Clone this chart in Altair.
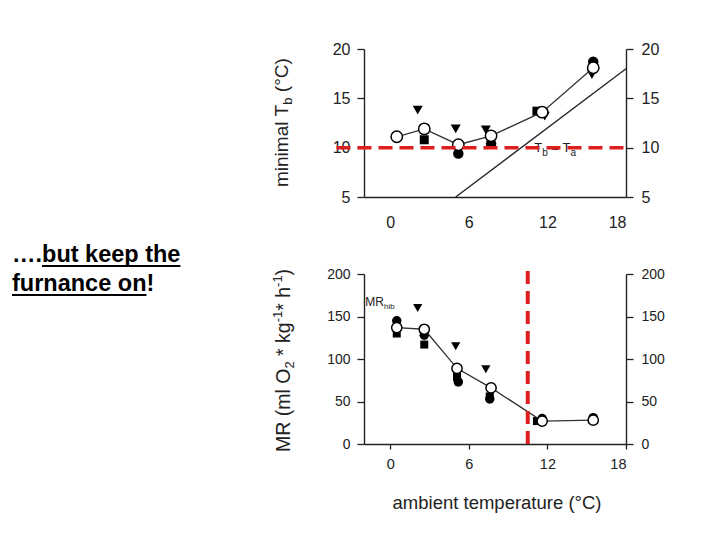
import altair as alt
import pandas as pd

# ---------------- data ----------------
x_ticks = [0, 6, 12, 18]
tb_ticks = [5, 10, 15, 20]
mr_ticks = [0, 50, 100, 150, 200]

# top panel: minimal body temperature (degC)
tb_mean_x = [0.5, 2.6, 5.2, 7.7, 11.6, 15.5]
tb_mean_y = [11.1, 11.9, 10.3, 11.2, 13.6, 18.1]
tb_tri_x = [2.1, 5.0, 7.3, 11.8, 15.4]
tb_tri_y = [13.8, 11.9, 11.8, 13.2, 17.4]
tb_sq_x = [2.6, 11.2]
tb_sq_y = [10.8, 13.7]
tb_dot_x = [5.2, 7.7, 15.5]
tb_dot_y = [9.4, 10.4, 18.7]
iso_x = [5, 18]          # Tb = Ta
iso_y = [5, 18]
tb_ref_x = [-4.1, 18.2]  # red dashed line at 10 degC
tb_ref_y = [10, 10]

# bottom panel: metabolic rate
mr_mean_x = [0.5, 2.6, 5.1, 7.7, 11.6, 15.5]
mr_mean_y = [137, 135, 89, 66, 27, 28]
mr_dot_x = [0.5, 2.6, 5.2, 7.6, 11.6, 15.5]
mr_dot_y = [145, 128, 73, 53, 30, 31]
mr_sq_x = [0.5, 2.6, 5.1, 7.6, 11.2]
mr_sq_y = [130, 117, 79, 56, 27]
mr_tri_x = [2.1, 5.0, 7.3]
mr_tri_y = [160, 115, 88]
mr_ref_x = [10.5]
mr_ref_y = [0]
mr_ref_y2 = [208]

# ---------------- styling helpers ----------------
FONT = "Liberation Sans"
INK = "#222222"
RED = "#dd1f1f"
W = 262
H_TOP = 148
H_BOT = 170
GAP = 77

AW = {' ': 278, '(': 333, ')': 333, '*': 389, '-': 333, '1': 556, '2': 556, 'M': 833,
      'R': 722, 'O': 778, 'T': 611, 'C': 722, '°': 400, 'a': 556, 'b': 556, 'e': 556,
      'g': 556, 'h': 556, 'i': 222, 'k': 500, 'l': 222, 'm': 833, 'n': 556, 'p': 556,
      'r': 333, 't': 278, 'u': 556, '=': 584}
BW = {'.': 278, '…': 1000, 'b': 611, 'u': 611, 't': 333, ' ': 278, 'k': 556, 'e': 556,
      'p': 611, 'h': 611, 'f': 333, 'r': 389, 'n': 611, 'a': 556, 'c': 556, 'o': 611, '!': 333}


def tw(s, fs, table=AW):
    return sum(table.get(c, 556) for c in s) * fs / 1000.0


def df(xs, ys):
    return pd.DataFrame({"x": xs, "y": ys})


one = pd.DataFrame({"k": [0]})
xsc = alt.Scale(domain=[-2, 18], nice=False, zero=False)


def xaxis(top):
    return alt.Axis(values=x_ticks, grid=False, title=None, domainColor=INK, domainWidth=1.4,
                    ticks=not top, tickSize=0 if top else 5, tickColor=INK, tickWidth=1.3,
                    labelPadding=17 if top else 8, labelFontSize=16 if top else 14.5,
                    labelColor=INK, labelFont=FONT)


def yaxis(vals, orient, fs):
    return alt.Axis(values=vals, orient=orient, grid=False, title=None, domainColor=INK,
                    domainWidth=1.4, tickSize=7, tickColor=INK, tickWidth=1.3,
                    labelPadding=7 if orient == "left" else 8, labelFontSize=fs,
                    labelColor=INK, labelFont=FONT)


def split_space(txt, fs):
    lead = len(txt) - len(txt.lstrip(" "))
    return txt.strip(" "), tw(" " * lead, fs)


def rotated_title(pieces, ax, ay):
    """pieces: (text, fontsize, baseline shift) laid along a vertical (270 deg) line."""
    layers = []
    off = 0.0
    for txt, fs, shift in pieces:
        core, lead = split_space(txt, fs)
        layers.append(
            alt.Chart(one).mark_text(angle=270, align="left", baseline="alphabetic",
                                     font=FONT, fontSize=fs, color=INK, dx=off + lead, dy=shift)
            .encode(x=alt.value(ax), y=alt.value(ay), text=alt.value(core))
        )
        off += tw(txt, fs)
    return layers


def data_label(pieces, xv, yv, X, Y):
    layers = []
    off = 0.0
    for txt, fs, shift in pieces:
        core, lead = split_space(txt, fs)
        layers.append(
            alt.Chart(df([xv], [yv])).mark_text(align="left", baseline="alphabetic", font=FONT,
                                                fontSize=fs, color=INK, dx=off + lead, dy=shift)
            .encode(x=X, y=Y, text=alt.value(core))
        )
        off += tw(txt, fs)
    return layers


def markers(xs, ys, X, Y, shape, size):
    return alt.Chart(df(xs, ys)).mark_point(shape=shape, filled=True, color="black",
                                            opacity=1, size=size).encode(x=X, y=Y)


# ---------------- top panel ----------------
ysc_top = alt.Scale(domain=[5, 20], nice=False, zero=False)
Xt = alt.X("x:Q", scale=xsc, axis=xaxis(True))
Yt = alt.Y("y:Q", scale=ysc_top, axis=None)

top_layers = [
    alt.Chart(df(iso_x, iso_y)).mark_line(color=INK, strokeWidth=1.3).encode(
        x=Xt, y=alt.Y("y:Q", scale=ysc_top, axis=yaxis(tb_ticks, "right", 16))),
    markers(tb_sq_x, tb_sq_y, Xt, Yt, "square", 81),
    markers(tb_dot_x, tb_dot_y, Xt, Yt, "circle", 110),
    markers(tb_tri_x, tb_tri_y, Xt, Yt, "triangle-down", 100),
    alt.Chart(df(tb_mean_x, tb_mean_y)).mark_line(color="#333333", strokeWidth=1.3).encode(
        x=Xt, y=alt.Y("y:Q", scale=ysc_top, axis=yaxis(tb_ticks, "left", 16))),
    alt.Chart(df(tb_mean_x, tb_mean_y)).mark_point(shape="circle", filled=True, fill="white",
                                                   stroke="black", strokeWidth=1.5, opacity=1,
                                                   size=130).encode(x=Xt, y=Yt),
]
top_layers += data_label([("T", 13, 0), ("b", 10, 4), (" = ", 13, 0), ("T", 13, 0), ("a", 10, 4)],
                         11.0, 9.56, Xt, Yt)
top_layers.append(
    alt.Chart(pd.DataFrame({"x": [tb_ref_x[0]], "x2": [tb_ref_x[1]], "y": [tb_ref_y[0]]}))
    .mark_rule(color=RED, strokeWidth=3.5, strokeDash=[14, 7])
    .encode(x=Xt, x2="x2:Q", y=Yt)
)
top_layers += rotated_title([("minimal T", 19, 0), ("b", 13, 4), (" (°C)", 19, 0)], -76, 138)

top = alt.layer(*top_layers).resolve_axis(y="independent").properties(width=W, height=H_TOP)

# ---------------- bottom panel ----------------
ysc_bot = alt.Scale(domain=[0, 200], nice=False, zero=False)
Xb = alt.X("x:Q", scale=xsc, axis=xaxis(False))
Yb = alt.Y("y:Q", scale=ysc_bot, axis=None)

bot_layers = [
    markers(mr_sq_x, mr_sq_y, Xb, Yb, "square", 64),
    markers(mr_dot_x, mr_dot_y, Xb, Yb, "circle", 90),
    markers(mr_tri_x, mr_tri_y, Xb, Yb, "triangle-down", 85),
    alt.Chart(df(mr_mean_x, mr_mean_y)).mark_line(color="#333333", strokeWidth=1.3).encode(
        x=Xb, y=alt.Y("y:Q", scale=ysc_bot, axis=yaxis(mr_ticks, "left", 14))),
    alt.Chart(df(mr_mean_x, mr_mean_y)).mark_point(shape="circle", filled=True, fill="white",
                                                   stroke="black", strokeWidth=1.5, opacity=1,
                                                   size=105).encode(
        x=Xb, y=alt.Y("y:Q", scale=ysc_bot, axis=yaxis(mr_ticks, "right", 14))),
]
bot_layers += data_label([("MR", 12, 0), ("hib", 8, 3)], -1.9, 162.5, Xb, Yb)
bot_layers.append(
    alt.Chart(pd.DataFrame({"x": mr_ref_x, "y": mr_ref_y, "y2": mr_ref_y2}))
    .mark_rule(color=RED, strokeWidth=4, strokeDash=[13, 7])
    .encode(x=Xb, y=Yb, y2="y2:Q")
)
bot_layers += rotated_title([("MR (ml O", 19.5, 0), ("2", 13, 4), (" * kg", 19.5, 0),
                             ("-1", 13, -8), ("* h", 19.5, 0), ("-1", 13, -8), (")", 19.5, 0)],
                            -74, 178)
bot_layers.append(
    alt.Chart(one).mark_text(align="center", baseline="alphabetic", font=FONT, fontSize=18.5,
                             color=INK)
    .encode(x=alt.value(133), y=alt.value(235), text=alt.value("ambient temperature (°C)"))
)

# slide text on the left, with underlines
LX = -352
line1_pre, line1_u = "….", "but keep the"
line2_u, line2_post = "furnance on", "!"
FS = 23.5
for txt, ly in [(line1_pre + line1_u, -12), (line2_u + line2_post, 17)]:
    bot_layers.append(
        alt.Chart(one).mark_text(align="left", baseline="alphabetic", font=FONT, fontSize=FS,
                                 fontWeight="bold", color="black")
        .encode(x=alt.value(LX), y=alt.value(ly), text=alt.value(txt))
    )
u1a = LX + tw(line1_pre, FS, BW)
u1b = u1a + tw(line1_u, FS, BW)
u2a = LX
u2b = LX + tw(line2_u, FS, BW)
for a, b, uy in [(u1a, u1b, -8), (u2a, u2b, 21)]:
    bot_layers.append(
        alt.Chart(one).mark_rule(color="black", strokeWidth=2)
        .encode(x=alt.value(a), x2=alt.value(b), y=alt.value(uy))
    )

bottom = alt.layer(*bot_layers).resolve_axis(y="independent").properties(width=W, height=H_BOT)

chart = (
    alt.vconcat(top, bottom, spacing=GAP, bounds="flush")
    .properties(padding={"left": 3, "top": 33, "right": 5, "bottom": 5}, background="white")
    .configure_view(stroke=None)
)

chart.save("out.html", embed_options={"renderer": "svg", "actions": False})
